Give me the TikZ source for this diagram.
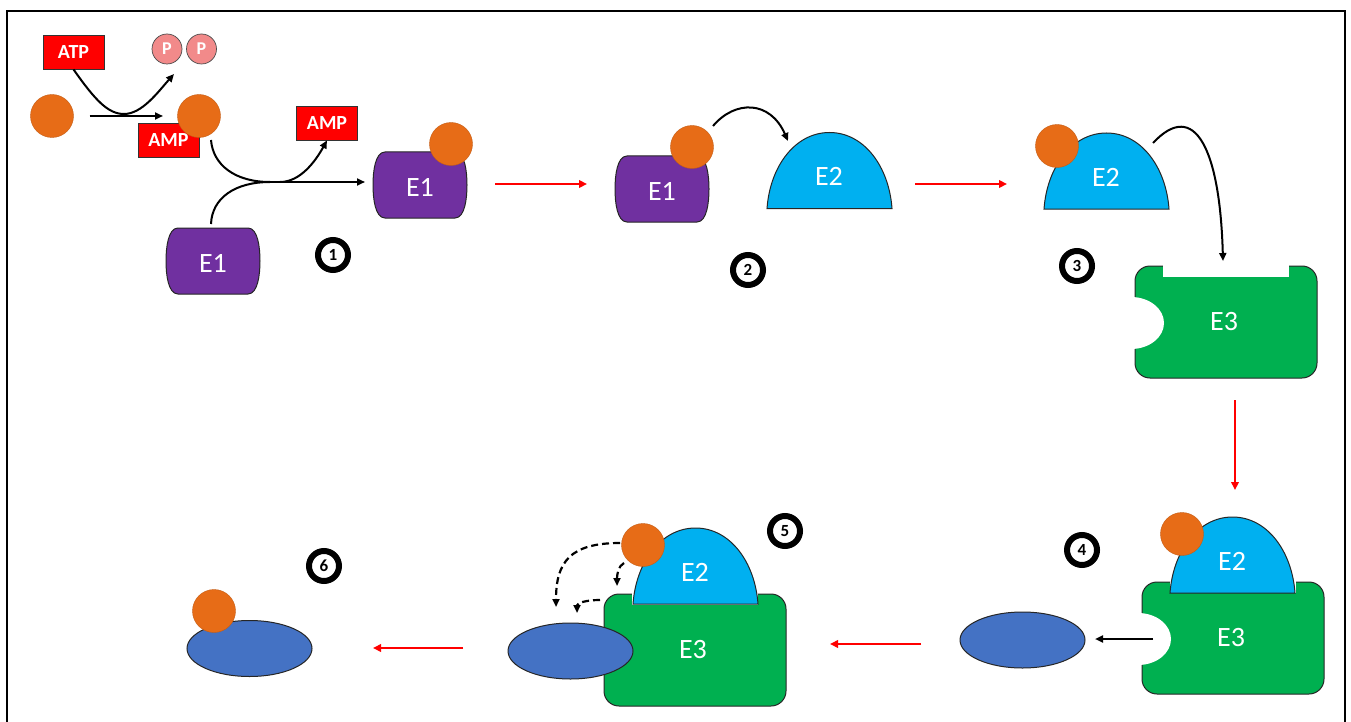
\documentclass[tikz,border=0pt]{standalone}
\usepackage{fontspec}
\setmainfont{Carlito}
\usetikzlibrary{arrows.meta,shapes.geometric}
\definecolor{subcol}{HTML}{E76C17}
\definecolor{eonecol}{HTML}{7030A0}
\definecolor{etwocol}{HTML}{00B0F0}
\definecolor{ethreecol}{HTML}{00B050}
\definecolor{targetcol}{HTML}{4472C4}
\definecolor{pcol}{HTML}{F28A8A}
\definecolor{boxred}{HTML}{FF0000}
\tikzset{
  eshape/.style={draw=black!85, line width=1pt},
  etext/.style={text=white, font=\fontsize{28}{30}\selectfont, inner sep=0pt},
  sub/.style={circle, fill=subcol, draw=subcol!85!black, line width=0.4pt,
    minimum size=43pt, inner sep=0pt},
  tag/.style={rectangle, fill=boxred, draw=black!80, line width=0.8pt,
    minimum width=61pt, minimum height=34pt, inner sep=0pt, text=white,
    font=\bfseries\fontsize{20}{20}\selectfont},
  phos/.style={circle, fill=pcol, draw=black!70, line width=0.7pt,
    minimum size=30pt, inner sep=0pt, text=white,
    font=\bfseries\fontsize{18}{18}\selectfont},
  badge/.style={circle, draw=black, line width=6pt, minimum size=30pt,
    inner sep=0pt, font=\bfseries\fontsize{17}{17}\selectfont},
  target/.style={ellipse, fill=targetcol, draw=black!85, line width=1pt,
    minimum width=125pt, minimum height=56pt, inner sep=0pt},
  arr/.style={line width=2pt, -{Triangle[length=8pt,width=7pt]}},
  redarr/.style={draw=boxred, line width=2.5pt, -{Triangle[length=8pt,width=7.5pt]}},
  dasharr/.style={line width=2.2pt, dash pattern=on 7pt off 4pt,
    -{Triangle[length=8pt,width=7pt]}},
  pics/eone/.style={code={
    \path[eshape, fill=eonecol] (12,0) -- (82,0)
      .. controls (92,0) and (94,20) .. (94,33)
      .. controls (94,46) and (92,66) .. (82,66) -- (12,66)
      .. controls (2,66) and (0,46) .. (0,33)
      .. controls (0,20) and (2,0) .. (12,0) -- cycle;
    \node[etext] (-label) at (47,35) {E1};
  }},
  pics/etwo/.style={code={
    \path[eshape, fill=etwocol] (0,0)
      .. controls (3,-42) and (28,-76) .. (62.5,-76)
      .. controls (97,-76) and (122,-42) .. (125,0) -- cycle;
    \node[etext] (-label) at (62,-32) {E2};
  }},
  pics/ethree/.style={code={
    \path[eshape, fill=ethreecol, rounded corners=15pt] (0,0) rectangle (182,112);
    \fill[white] (28,-2) rectangle (154,11);
    \node[etext] (-label) at (89,56) {E3};
  }},
}
\begin{document}
\begin{tikzpicture}[x=1pt,y=-1pt]
\useasboundingbox (0,0) rectangle (1351,722);
\clip (0,0) rectangle (1351,722);
\fill[white] (0,0) rectangle (1351,722);
% outer frame
\draw[line width=2.5pt] (7,11) rectangle (1345,760);

% ---- step 1: activation of the modifier by ATP, transfer onto E1
\node[tag] (atp) at (73.5,52) {ATP};
\node[phos] (p1) at (167,49) {P};
\node[phos] (p2) at (201.5,49) {P};
\node[sub] (s0) at (52,116) {};
\node[tag] (amp1) at (168.5,140.5) {AMP};
\node[sub] (s1) at (199,116) {};
\node[tag] (amp2) at (327,123) {AMP};
\pic (e1low) at (166,228) {eone};
\pic (e1a) at (373,152) {eone};
\node[sub] (s2) at (451,144) {};

\coordinate (j1) at (270,182);
\coordinate (j2) at (280,182);
\coordinate (e1in) at (365,182);
\draw[arr] (s0.east) ++(16,0) coordinate (m0) -- (163,116) coordinate (m1);
\draw[arr] (atp.south) .. controls (95,100) and (108,114) .. (124,114)
  .. controls (142,114) and (158,92) .. (174,74) coordinate (pp);
\draw[line width=2pt] (211,140) .. controls (213,165) and (235,182) .. (j1);
\draw[line width=2pt] (211,224) .. controls (212,198) and (235,182) .. (j1);
\draw[arr] (j1) -- (e1in);
\draw[arr] (j2) .. controls (300,182) and (315,162) .. (amp2.south);
\node[badge] (n1) at (333,255) {1};

\draw[redarr] (495,184) coordinate (ra) -- (587,184) coordinate (rb);

% ---- step 2: E1 hands the modifier to E2
\pic (e1b) at (615,156) {eone};
\node[sub] (s3) at (692,147) {};
\pic (e2a) at (767,208.5) {etwo};
\draw[arr] (713,126) .. controls (735,100) and (770,100) .. (788,141);
\node[badge] (n2) at (748,270) {2};

\draw[redarr] (915,184) -- (1007,184);

% ---- step 3: charged E2 moves to E3
\pic (e2b) at (1044,209) {etwo};
\node[sub] (s4) at (1057,146) {};
\pic (e3a) at (1135,266) {ethree};
\fill[white] (1131,323) ellipse [x radius=33, y radius=26];
\draw[arr] (1153,143) .. controls (1195,98) and (1220,150) .. (1223,261);
\node[badge] (n3) at (1077,266) {3};

\draw[redarr] (1235,400) -- (1235,490);

% ---- step 4: E2-E3 complex recruits the target
\pic (e3b) at (1142,582) {ethree};
\fill[white] (1138,639) ellipse [x radius=33, y radius=26];
\pic (e2c) at (1170,593) {etwo};
\node[sub] (s5) at (1182,534) {};
\node[target] (t4) at (1022.5,640) {};
\coordinate (t4in) at (1095,639);
\draw[arr] (1153,639) -- (t4in);
\node[badge] (n4) at (1082,550) {4};

\draw[redarr] (921,644) -- (830,644);

% ---- step 5: transfer onto the bound target
\pic (e3c) at (604,594) {ethree};
\pic (e2d) at (633,604) {etwo};
\node[sub] (s6) at (643,545) {};
\node[target] (t5) at (570.5,651) {};
\draw[dasharr] (620,543) .. controls (570,543) and (556,562) .. (556,607);
\draw[dasharr] (624,563) .. controls (618,566) and (617,575) .. (617,586);
\draw[dasharr] (600,600) .. controls (586,600) and (577,603) .. (577,613);
\node[badge] (n5) at (785,531) {5};

\draw[redarr] (463,648) -- (373,648);

% ---- step 6: modified target
\node[target] (t6) at (249.5,648.5) {};
\node[sub] (s7) at (214,611) {};
\node[badge] (n6) at (324,566) {6};
\end{tikzpicture}
\end{document}
